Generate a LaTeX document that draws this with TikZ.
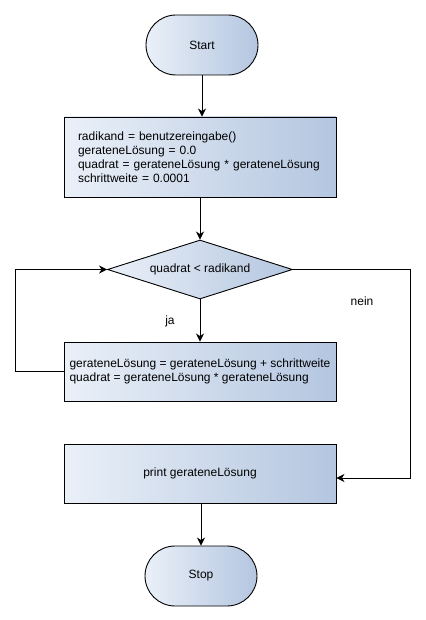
\documentclass[tikz,border=0pt]{standalone}
\usepackage{fontspec}
\setmainfont{Liberation Sans}
\usetikzlibrary{shapes.geometric,shapes.misc,arrows.meta}
\definecolor{gradL}{HTML}{EAF0F8}
\definecolor{gradR}{HTML}{B4C6E0}
\tikzset{
  base/.style={draw=black, line width=0.9pt, left color=gradL, right color=gradR,
    font=\fontsize{12}{14}\selectfont, text=black},
  term/.style={base, rounded rectangle, minimum width=112pt, minimum height=60pt, inner sep=0pt},
  procbox/.style={base, rectangle, minimum width=272pt, inner xsep=14pt, text width=244pt, align=left},
  loopbox/.style={base, rectangle, minimum width=272pt, inner xsep=2pt, align=left},
  decide/.style={base, diamond, aspect=3, minimum width=185pt, minimum height=59pt, inner sep=0pt},
  arr/.style={draw=black, line width=0.9pt, -{Stealth[length=8pt,width=8pt,inset=2.5pt]}},
  lbl/.style={font=\fontsize{12}{14}\selectfont, text=black}
}
\begin{document}
\begin{tikzpicture}[x=1pt,y=-1pt]
\useasboundingbox (0,0) rectangle (425,620);
\node[term] (start) at (202,45) {Start};
\node[procbox, minimum height=80pt] (init) at (200,157) {radikand = benutzereingabe()\\gerateneLösung = 0.0\\quadrat = gerateneLösung * gerateneLösung\\schrittweite = 0.0001};
\node[decide] (dia) at (200,269.5) {quadrat < radikand};
\node[loopbox, minimum height=59pt] (loop) at (200,371.5) {gerateneLösung = gerateneLösung + schrittweite\\quadrat = gerateneLösung * gerateneLösung};
\node[base, rectangle, minimum width=272pt, minimum height=59pt] (out) at (200,473.5) {print gerateneLösung};
\node[term] (stop) at (201,576) {Stop};
\coordinate (n1) at (410,269.5);
\coordinate (n2) at (410,478);
\coordinate (l1) at (15,371.5);
\draw[arr] (start.south) -- (start.south |- init.north);
\draw[arr] (init.south -| dia.north) -- (dia.north);
\draw[arr] (dia.south) -- (dia.south |- loop.north);
\draw[arr] (loop.west) -- (l1) |- (dia.west);
\draw[arr] (dia.east) -- (n1) -- (n2) -- (n2 -| out.east);
\draw[arr] (out.south -| stop.north) -- (stop.north);
\node[lbl] (ja) at (170,321) {ja};
\node[lbl] (nein) at (362,301) {nein};
\end{tikzpicture}
\end{document}
